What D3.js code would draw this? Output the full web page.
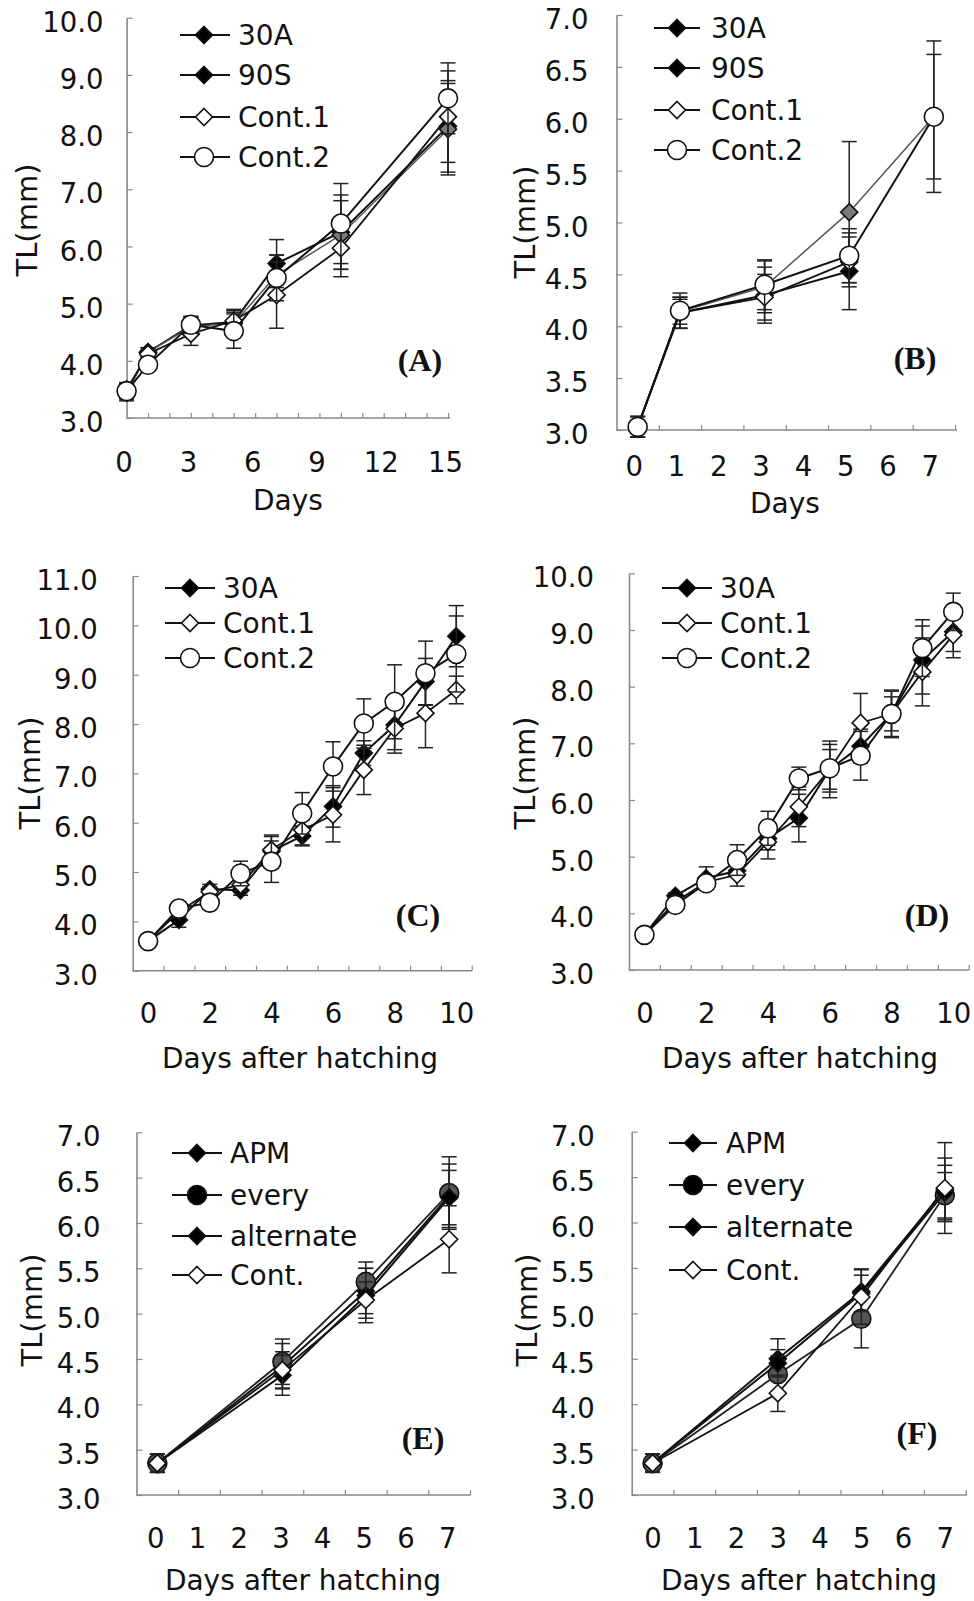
<!DOCTYPE html>
<html>
<head>
<meta charset="utf-8">
<script src="https://cdn.jsdelivr.net/npm/d3@7"></script>
<style>
  body { margin: 0; background: #fff; }
  svg text { font-family: "DejaVu Sans", Verdana, sans-serif; fill: #111; }
  .plabel { font-family: "Liberation Serif", "Times New Roman", serif !important; font-weight: bold; }
</style>
</head>
<body>
<svg id="chart" width="974" height="1601"></svg>
<script>
// ---- data (TL in mm, mean and error) ----
// (A)
const daysA = [0, 1, 3, 5, 7, 10, 15];
const a30A = [3.45, 4.15, 4.62, 4.68, 5.70, 6.25, 8.10];
const a90S = [3.45, 4.15, 4.60, 4.65, 5.50, 6.20, 8.05];
const aCont1 = [3.50, 4.12, 4.47, 4.70, 5.15, 5.97, 8.27];
const aCont2 = [3.47, 3.93, 4.63, 4.52, 5.45, 6.40, 8.59];
const a30AErr = [0.15, 0.08, 0.15, 0.20, 0.42, 0.65, 0.80];
const a90SErr = [0.12, 0.08, 0.15, 0.20, 0.35, 0.60, 0.80];
const aCont1Err = [0.12, 0.08, 0.20, 0.20, 0.58, 0.50, 0.80];
const aCont2Err = [0.12, 0.08, 0.15, 0.30, 0.40, 0.70, 0.62];
// (B)
const daysB = [0, 1, 3, 5, 7];
const b30A = [3.03, 4.13, 4.30, 4.53];
const b90S = [3.03, 4.14, 4.38, 5.10, 6.02];
const bCont1 = [3.03, 4.13, 4.28, 4.62];
const bCont2 = [3.03, 4.15, 4.40, 4.68, 6.02];
const b30AErr = [0.10, 0.15, 0.27, 0.37];
const b90SErr = [0.10, 0.12, 0.25, 0.68, 0.73];
const bCont1Err = [0.10, 0.15, 0.22, 0.24];
const bCont2Err = [0.10, 0.17, 0.24, 0.26, 0.60];
// (C)
const daysC = [0, 1, 2, 3, 4, 5, 6, 7, 8, 9, 10];
const c30A = [3.60, 4.03, 4.65, 4.63, 5.42, 5.73, 6.33, 7.41, 7.98, 8.86, 9.78];
const cCont1 = [3.60, 4.20, 4.60, 4.74, 5.45, 5.85, 6.16, 7.07, 7.91, 8.22, 8.69];
const cCont2 = [3.60, 4.26, 4.38, 4.97, 5.21, 6.19, 7.14, 8.01, 8.45, 9.03, 9.42];
const c30AErr = [0.05, 0.15, 0.10, 0.10, 0.30, 0.20, 0.42, 0.25, 0.50, 0.47, 0.62];
const cCont1Err = [0.05, 0.10, 0.10, 0.12, 0.30, 0.30, 0.55, 0.50, 0.50, 0.70, 0.28];
const cCont2Err = [0.05, 0.10, 0.10, 0.25, 0.42, 0.42, 0.50, 0.50, 0.75, 0.65, 0.77];
// (D)
const daysD = [0, 1, 2, 3, 4, 5, 6, 7, 8, 9, 10];
const d30A = [3.62, 4.31, 4.62, 4.75, 5.32, 5.68, 6.54, 6.95, 7.52, 8.47, 8.97];
const dCont1 = [3.62, 4.20, 4.55, 4.68, 5.26, 5.88, 6.54, 7.36, 7.52, 8.26, 8.91];
const dCont2 = [3.62, 4.15, 4.53, 4.94, 5.50, 6.38, 6.56, 6.78, 7.52, 8.68, 9.32];
const d30AErr = [0.03, 0.05, 0.20, 0.10, 0.20, 0.42, 0.50, 0.30, 0.42, 0.60, 0.35];
const dCont1Err = [0.03, 0.05, 0.10, 0.20, 0.30, 0.35, 0.35, 0.52, 0.40, 0.60, 0.40];
const dCont2Err = [0.03, 0.05, 0.10, 0.27, 0.30, 0.20, 0.42, 0.43, 0.30, 0.50, 0.33];
// (E)
const daysE = [0, 3, 5, 7];
const eAPM = [3.35, 4.42, 5.25, 6.30];
const eEvery = [3.35, 4.47, 5.35, 6.33];
const eAlt = [3.35, 4.32, 5.20, 6.28];
const eCont = [3.35, 4.38, 5.15, 5.82];
const eAPMErr = [0.10, 0.25, 0.25, 0.35];
const eEveryErr = [0.10, 0.25, 0.22, 0.40];
const eAltErr = [0.10, 0.22, 0.30, 0.30];
const eContErr = [0.10, 0.20, 0.20, 0.37];
// (F)
const daysF = [0, 3, 5, 7];
const fAPM = [3.35, 4.50, 5.24, 6.36];
const fEvery = [3.35, 4.33, 4.94, 6.30];
const fAlt = [3.35, 4.45, 5.22, 6.33];
const fCont = [3.35, 4.12, 5.18, 6.38];
const fAPMErr = [0.10, 0.22, 0.25, 0.35];
const fEveryErr = [0.10, 0.20, 0.32, 0.25];
const fAltErr = [0.10, 0.15, 0.20, 0.30];
const fContErr = [0.10, 0.20, 0.30, 0.50];

// ---- marker styles ----
const ST = {
  black:  { shape: "diamond", fill: "#000", legendFill: "#000", line: "#111", lw: 2 },
  gray:   { shape: "diamond", fill: "#7a7a7a", legendFill: "#000", line: "#555", lw: 1.5 },
  open:   { shape: "diamond", fill: "#fff", legendFill: "#fff", line: "#111", lw: 1.8 },
  ring:   { shape: "circle", fill: "#fff", legendFill: "#fff", line: "#111", lw: 2 },
  dot:    { shape: "circle", fill: "#555", legendFill: "#000", line: "#222", lw: 1.8 }
};

const panels = [
  { tag: "(A)", x: [0, 15], xr: [126.6, 448], xEnd: 450, y: [3, 10], yr: [418, 17.7], yStep: 1,
    xTicks: d3.range(1, 16), xLabels: [0, 3, 6, 9, 12, 15], xdx: -3, xLabY: 462, ylabGap: 23,
    xTitle: "Days", xTitleAt: [288, 500], yTitleAt: [27, 220], tagAt: [420, 360],
    leg: { x1: 180, x2: 230, m: 204, t: 238, ys: [35, 75, 117, 157] },
    series: [
      ["30A", daysA, a30A, a30AErr, ST.black], ["90S", daysA, a90S, a90SErr, ST.gray],
      ["Cont.1", daysA, aCont1, aCont1Err, ST.open], ["Cont.2", daysA, aCont2, aCont2Err, ST.ring]] },
  { tag: "(B)", x: [-0.5, 7.5], xr: [616.5, 955], xEnd: 957, y: [3, 7], yr: [430, 15], yStep: 0.5,
    xTicks: d3.range(0.5, 8, 1), xLabels: d3.range(0, 8), xdx: -4, xLabY: 466, ylabGap: 28,
    xTitle: "Days", xTitleAt: [785, 503], yTitleAt: [525, 222], tagAt: [915, 358],
    leg: { x1: 654, x2: 700, m: 677, t: 711, ys: [28, 68, 110, 150] },
    series: [
      ["30A", daysB, b30A, b30AErr, ST.black], ["90S", daysB, b90S, b90SErr, ST.gray],
      ["Cont.1", daysB, bCont1, bCont1Err, ST.open], ["Cont.2", daysB, bCont2, bCont2Err, ST.ring]] },
  { tag: "(C)", x: [-0.5, 10.5], xr: [132.7, 471.7], xEnd: 472, y: [3, 11], yr: [970.7, 576], yStep: 1,
    xTicks: d3.range(0.5, 11, 1), xLabels: [0, 2, 4, 6, 8, 10], xdx: 0, xLabY: 1013, ylabGap: 35,
    xTitle: "Days after hatching", xTitleAt: [300, 1058], yTitleAt: [30, 773], tagAt: [418, 915],
    leg: { x1: 165, x2: 215, m: 190, t: 223, ys: [588, 623, 658] },
    series: [
      ["30A", daysC, c30A, c30AErr, ST.black], ["Cont.1", daysC, cCont1, cCont1Err, ST.open],
      ["Cont.2", daysC, cCont2, cCont2Err, ST.ring]] },
  { tag: "(D)", x: [-0.5, 10.5], xr: [629, 968.7], xEnd: 969, y: [3, 10], yr: [970, 573.3], yStep: 1,
    xTicks: d3.range(0.5, 11, 1), xLabels: [0, 2, 4, 6, 8, 10], xdx: 0, xLabY: 1013, ylabGap: 35,
    xTitle: "Days after hatching", xTitleAt: [800, 1058], yTitleAt: [525, 773], tagAt: [927, 915],
    leg: { x1: 662, x2: 712, m: 687, t: 720, ys: [588, 623, 658] },
    series: [
      ["30A", daysD, d30A, d30AErr, ST.black], ["Cont.1", daysD, dCont1, dCont1Err, ST.open],
      ["Cont.2", daysD, dCont2, dCont2Err, ST.ring]] },
  { tag: "(E)", x: [-0.5, 7.5], xr: [136.5, 470], xEnd: 471, y: [3, 7], yr: [1495, 1132.3], yStep: 0.5,
    xTicks: d3.range(0.5, 8, 1), xLabels: d3.range(0, 8), xdx: -2, xLabY: 1538, ylabGap: 36,
    xTitle: "Days after hatching", xTitleAt: [303, 1580], yTitleAt: [32, 1310], tagAt: [423, 1438],
    leg: { x1: 172, x2: 222, m: 197, t: 230, ys: [1153, 1195, 1236, 1275] },
    series: [
      ["APM", daysE, eAPM, eAPMErr, ST.black], ["every", daysE, eEvery, eEveryErr, ST.dot],
      ["alternate", daysE, eAlt, eAltErr, ST.black], ["Cont.", daysE, eCont, eContErr, ST.open]] },
  { tag: "(F)", x: [-0.5, 7.5], xr: [631.7, 965.7], xEnd: 967, y: [3, 7], yr: [1495, 1131.7], yStep: 0.5,
    xTicks: d3.range(0.5, 8, 1), xLabels: d3.range(0, 8), xdx: 0, xLabY: 1538, ylabGap: 37,
    xTitle: "Days after hatching", xTitleAt: [799, 1580], yTitleAt: [527, 1310], tagAt: [917, 1433],
    leg: { x1: 669, x2: 717, m: 693, t: 726, ys: [1143, 1185, 1227, 1270] },
    series: [
      ["APM", daysF, fAPM, fAPMErr, ST.black], ["every", daysF, fEvery, fEveryErr, ST.dot],
      ["alternate", daysF, fAlt, fAltErr, ST.black], ["Cont.", daysF, fCont, fContErr, ST.open]] }
];

const svg = d3.select("#chart");
const AX = "#8a8a8a";

function marker(sel, shape, fill) {
  if (shape === "circle") {
    sel.append("circle").attr("r", 9.5).attr("fill", fill).attr("stroke", "#111").attr("stroke-width", 1.6);
  } else {
    const s = 8.5;
    sel.append("path").attr("d", `M0,${-s}L${s},0L0,${s}L${-s},0Z`)
      .attr("fill", fill).attr("stroke", "#111").attr("stroke-width", 1.6);
  }
}

panels.forEach(p => {
  const g = svg.append("g");
  const x = d3.scaleLinear().domain(p.x).range(p.xr);
  const y = d3.scaleLinear().domain(p.y).range(p.yr);
  const x0 = p.xr[0], yBase = p.yr[0];

  // y axis (ticks pointing inward)
  const yTicks = d3.range(p.y[0], p.y[1] + 1e-9, p.yStep);
  const ya = g.append("g").attr("transform", `translate(${x0},0)`)
    .call(d3.axisLeft(y).tickValues(yTicks).tickSizeInner(-6).tickSizeOuter(0)
      .tickPadding(p.ylabGap).tickFormat(d3.format(".1f")));
  ya.select(".domain").attr("stroke", AX).attr("stroke-width", 1.6);
  ya.selectAll(".tick line").attr("stroke", AX).attr("stroke-width", 1.2);
  ya.selectAll("text").attr("font-size", 27.5).attr("dy", "0.35em").attr("y", 4)
    .attr("fill", "#111").attr("font-family", "DejaVu Sans, Verdana, sans-serif");

  // x axis: line + inward minor ticks
  g.append("line").attr("x1", x0).attr("x2", p.xEnd).attr("y1", yBase).attr("y2", yBase)
    .attr("stroke", AX).attr("stroke-width", 1.6);
  const xa = g.append("g").attr("transform", `translate(0,${yBase})`)
    .call(d3.axisBottom(x).tickValues(p.xTicks).tickSizeInner(-5).tickSizeOuter(0).tickFormat(""));
  xa.select(".domain").remove();
  xa.selectAll(".tick line").attr("stroke", AX).attr("stroke-width", 1.2);
  const xl = g.append("g").attr("transform", `translate(0,${yBase})`)
    .call(d3.axisBottom(x).tickValues(p.xLabels).tickSize(0).tickFormat(d3.format("d")));
  xl.select(".domain").remove();
  xl.selectAll("text").attr("font-size", 27.5).attr("y", p.xLabY - yBase).attr("dy", "0.35em")
    .attr("dx", p.xdx).attr("fill", "#111").attr("font-family", "DejaVu Sans, Verdana, sans-serif");

  // titles
  g.append("text").attr("x", p.xTitleAt[0]).attr("y", p.xTitleAt[1]).attr("dy", "0.35em")
    .attr("text-anchor", "middle").attr("font-size", 28).text(p.xTitle);
  g.append("text").attr("transform", `translate(${p.yTitleAt[0]},${p.yTitleAt[1]}) rotate(-90)`)
    .attr("dy", "0.35em").attr("text-anchor", "middle").attr("font-size", 29).text("TL(mm)");
  g.append("text").attr("class", "plabel").attr("x", p.tagAt[0]).attr("y", p.tagAt[1]).attr("dy", "0.35em")
    .attr("text-anchor", "middle").attr("font-size", 32).text(p.tag);

  // series
  p.series.forEach(([name, days, vals, errs, st]) => {
    const pts = vals.map((v, i) => ({ d: days[i], v, e: errs[i] }));
    const sg = g.append("g");
    sg.append("path").datum(pts)
      .attr("d", d3.line().x(d => x(d.d)).y(d => y(d.v)))
      .attr("fill", "none").attr("stroke", st.line).attr("stroke-width", st.lw);
    const eb = sg.selectAll(".eb").data(pts).enter().append("g").attr("stroke", "#222").attr("stroke-width", 1.5);
    eb.append("line").attr("x1", d => x(d.d)).attr("x2", d => x(d.d))
      .attr("y1", d => y(d.v - d.e)).attr("y2", d => y(d.v + d.e));
    [-1, 1].forEach(sgn => {
      eb.append("line").attr("x1", d => x(d.d) - 7.5).attr("x2", d => x(d.d) + 7.5)
        .attr("y1", d => y(d.v + sgn * d.e)).attr("y2", d => y(d.v + sgn * d.e));
    });
    sg.selectAll(".mk").data(pts).enter().append("g")
      .attr("transform", d => `translate(${x(d.d)},${y(d.v)})`)
      .each(function () { marker(d3.select(this), st.shape, st.fill); });
  });

  // legend
  p.series.forEach(([name, , , , st], i) => {
    const ly = p.leg.ys[i];
    const lg = g.append("g");
    lg.append("line").attr("x1", p.leg.x1).attr("x2", p.leg.x2).attr("y1", ly).attr("y2", ly)
      .attr("stroke", "#111").attr("stroke-width", 2);
    const m = lg.append("g").attr("transform", `translate(${p.leg.m},${ly})`);
    marker(m, st.shape, st.legendFill);
    lg.append("text").attr("x", p.leg.t).attr("y", ly).attr("dy", "0.35em")
      .attr("font-size", 28).text(name);
  });
});
</script>
</body>
</html>
